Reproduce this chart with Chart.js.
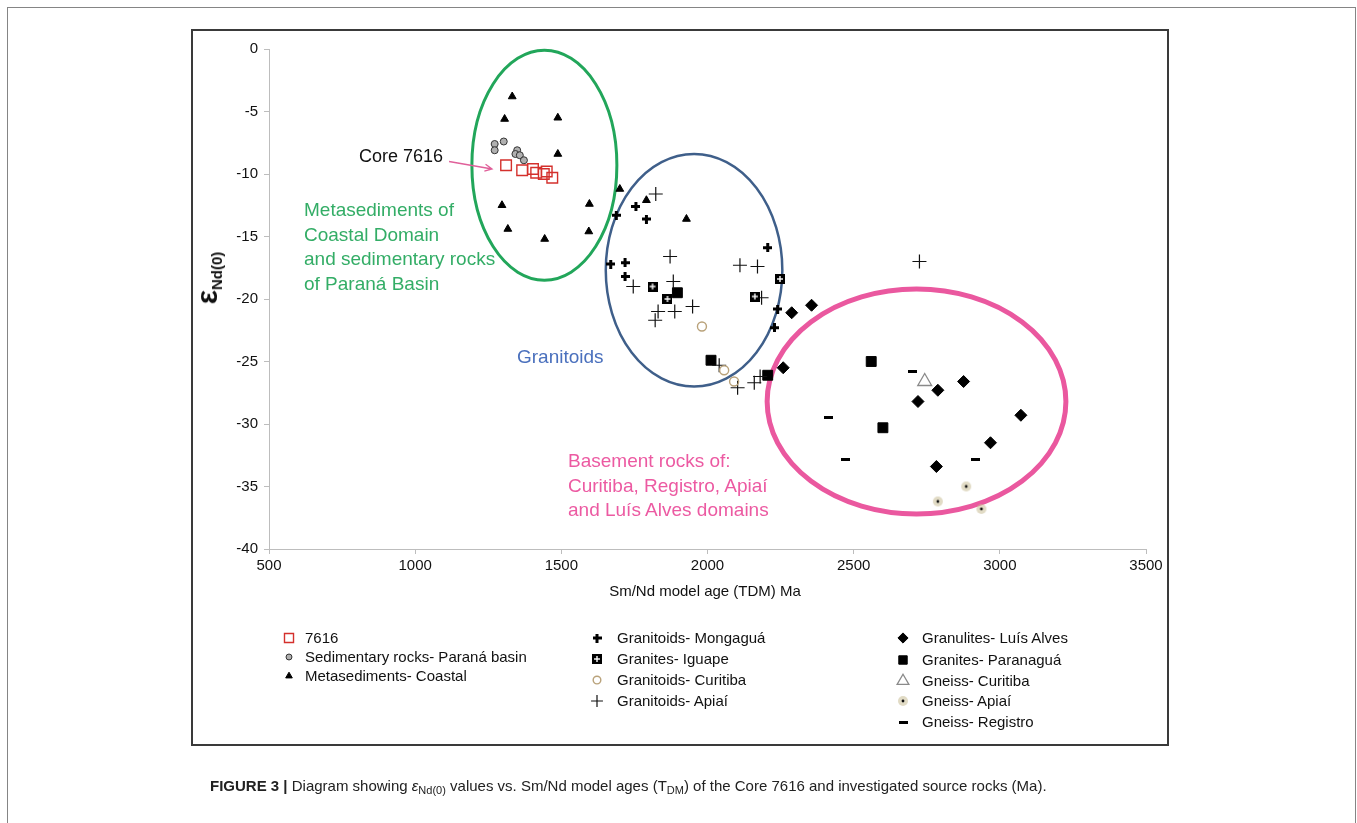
<!DOCTYPE html>
<html>
<head>
<meta charset="utf-8">
<script src="https://cdn.jsdelivr.net/npm/chart.js@4.4.0/dist/chart.umd.min.js"></script>
<style>
  body { margin: 0; background: #fff; font-family: "Liberation Sans", Arial, sans-serif; color: #111; }
  #wrap { position: relative; width: 1357px; height: 823px; overflow: hidden; }
  #outer { position: absolute; left: 7px; top: 7px; width: 1349px; height: 860px; border: 1.5px solid #858585; box-sizing: border-box; }
  #box { position: absolute; left: 191px; top: 29px; width: 978px; height: 717px; border: 2px solid #3a3a3a; box-sizing: border-box; }
  canvas { position: absolute; left: 0; top: 0; }
  .t { position: absolute; white-space: nowrap; line-height: 1; }
  .leg { font-size: 15px; }
  .green { color: #33ad66; font-size: 19px; line-height: 24.7px; }
  .blue { color: #4a70bd; font-size: 19px; }
  .pink { color: #ec5aa2; font-size: 19px; line-height: 24.5px; }
  #ytitle { left: 208px; top: 278px; transform: translate(-50%, -50%) rotate(-90deg); font-weight: bold; }
  #ytitle .eps { font-size: 30px; }
  #ytitle sub { font-size: 15px; vertical-align: -5px; }
  #caption { left: 210px; top: 778px; font-size: 15px; color: #222; }
  #caption sub { font-size: 11px; vertical-align: -3px; }
</style>
</head>
<body>
<div id="wrap">
  <div id="outer"></div>
  <div id="box"></div>
  <canvas id="scatterChart" width="1357" height="823"></canvas>

  <div class="t" id="ytitle"><span class="eps">ε</span><sub>Nd(0)</sub></div>
  <div class="t" style="left:705px; top:583px; font-size:15px; transform:translateX(-50%);">Sm/Nd model age (TDM) Ma</div>

  <!-- annotations -->
  <div class="t" style="left:359px; top:147px; font-size:18px;">Core 7616</div>
  <div class="t green" style="left:304px; top:198px;">Metasediments of<br>Coastal Domain<br>and sedimentary rocks<br>of Paraná Basin</div>
  <div class="t blue" style="left:517px; top:347px;">Granitoids</div>
  <div class="t pink" style="left:568px; top:449px;">Basement rocks of:<br>Curitiba, Registro, Apiaí<br>and Luís Alves domains</div>

  <div id="legend"></div>

  <div class="t" id="caption"><b>FIGURE 3 |</b> Diagram showing <i>ε</i><sub>Nd(0)</sub> values vs. Sm/Nd model ages (T<sub>DM</sub>) of the Core 7616 and investigated source rocks (Ma).</div>
</div>

<script>
// data: [model age Ma, eNd(0)]
const core7616 = [[1311, -9.3], [1366, -9.7], [1403, -9.6], [1414, -9.9], [1440, -10.0], [1450, -9.8], [1469, -10.3]];
const sedParana = [[1272, -7.6], [1272, -8.1], [1303, -7.4], [1349, -8.1], [1343, -8.4], [1358, -8.5], [1372, -8.9]];
const metaCoastal = [[1332, -3.8], [1306, -5.6], [1488, -5.5], [1488, -8.4], [1297, -12.5], [1317, -14.4],
  [1443, -15.2], [1596, -12.4], [1594, -14.6], [1700, -11.2], [1791, -12.1], [1928, -13.6]];
const granMongagua = [[1688, -13.3], [1755, -12.6], [1791, -13.6], [1669, -17.2], [1718, -17.1], [1718, -18.2],
  [2206, -15.9], [2240, -20.8], [2229, -22.3]];
const graniteIguape = [[1812, -19.0], [1863, -20.0], [2162, -19.8], [2248, -18.4]];
const granCuritiba = [[1981, -22.2], [2057, -25.7], [2091, -26.6]];
const granApiai = [[1823, -11.6], [1872, -16.6], [1746, -19.0], [1883, -18.6], [1831, -21.0], [1821, -21.7],
  [1888, -21.0], [1949, -20.6], [2111, -17.3], [2171, -17.4], [2185, -19.9], [2040, -25.3], [2103, -27.1],
  [2160, -26.7], [2180, -26.2], [2725, -17.0]];
const granuliteLuisAlves = [[2288, -21.1], [2356, -20.5], [2259, -25.5], [2788, -27.3], [2720, -28.2],
  [2876, -26.6], [3072, -29.3], [2968, -31.5], [2783, -33.4]];
const graniteParanagua = [[1897, -19.5], [2012, -24.9], [2206, -26.1], [2560, -25.0], [2600, -30.3]];
const gneissCuritiba = [[2743, -26.6]];
const gneissApiai = [[2885, -35.0], [2788, -36.2], [2937, -36.8]];
const gneissRegistro = [[2702, -25.8], [2415, -29.5], [2471, -32.8], [2917, -32.8]];

const xTicks = [500, 1000, 1500, 2000, 2500, 3000, 3500];
const yTicks = [0, -5, -10, -15, -20, -25, -30, -35, -40];

// field ellipses: centre x, centre y, half width (Ma), half height (eNd)
const fields = [
  { cx: 1442, cy: -9.3, rx: 248, ry: 9.2, color: '#22a65a', width: 3 },
  { cx: 1954, cy: -17.7, rx: 302, ry: 9.3, color: '#3f5f8a', width: 2.5 },
  { cx: 2715, cy: -28.2, rx: 511, ry: 9.0, color: '#ea589f', width: 5 }
];

// small canvases for the odd markers
function marker(w, h, draw) {
  const c = document.createElement('canvas');
  c.width = w; c.height = h;
  draw(c.getContext('2d'));
  return c;
}
const boldPlus = marker(9, 9, g => { g.fillStyle = '#000'; g.fillRect(3, 0, 3, 9); g.fillRect(0, 3, 9, 3); });
const quadSquare = marker(10, 10, g => {
  g.fillStyle = '#000'; g.fillRect(0, 0, 10, 10);
  g.fillStyle = '#fff'; g.fillRect(4.3, 2, 1.4, 6); g.fillRect(2, 4.3, 6, 1.4);
});
const dotHalo = marker(12, 12, g => {
  g.fillStyle = 'rgba(200,190,150,0.55)'; g.beginPath(); g.arc(6, 6, 5, 0, Math.PI * 2); g.fill();
  g.fillStyle = '#111'; g.beginPath(); g.arc(6, 6, 1.4, 0, Math.PI * 2); g.fill();
});
const dash = marker(9, 3, g => { g.fillStyle = '#000'; g.fillRect(0, 0, 9, 3); });

function series(label, pts, style) {
  return Object.assign({ label, data: pts.map(p => ({ x: p[0], y: p[1] })), borderWidth: 1 }, style);
}

const datasets = [
  series('7616', core7616, { pointStyle: 'rect', pointRadius: 7.5, backgroundColor: 'rgba(255,255,255,0)', borderColor: '#d4302c', borderWidth: 1.4 }),
  series('Sedimentary rocks- Paraná basin', sedParana, { pointStyle: 'circle', pointRadius: 3.5, backgroundColor: '#b0b0b0', borderColor: '#333', borderWidth: 1 }),
  series('Metasediments- Coastal', metaCoastal, { pointStyle: 'triangle', pointRadius: 4.5, backgroundColor: '#000', borderColor: '#000' }),
  series('Granitoids- Mongaguá', granMongagua, { pointStyle: boldPlus }),
  series('Granites- Iguape', graniteIguape, { pointStyle: quadSquare }),
  series('Granitoids- Curitiba', granCuritiba, { pointStyle: 'circle', pointRadius: 4.5, backgroundColor: 'rgba(255,255,255,0)', borderColor: '#b9a27a', borderWidth: 1.4 }),
  series('Granitoids- Apiaí', granApiai, { pointStyle: 'cross', pointRadius: 7, borderColor: '#111', borderWidth: 1.2 }),
  series('Granulites- Luís Alves', granuliteLuisAlves, { pointStyle: 'rectRot', pointRadius: 6, backgroundColor: '#000', borderColor: '#000' }),
  series('Granites- Paranaguá', graniteParanagua, { pointStyle: 'rect', pointRadius: 7, backgroundColor: '#000', borderColor: '#000' }),
  series('Gneiss- Curitiba', gneissCuritiba, { pointStyle: 'triangle', pointRadius: 8, backgroundColor: 'rgba(255,255,255,0)', borderColor: '#8a8a8a', borderWidth: 1.3 }),
  series('Gneiss- Apiaí', gneissApiai, { pointStyle: dotHalo }),
  series('Gneiss- Registro', gneissRegistro, { pointStyle: dash })
];

// legend layout: [dataset index, row y]; label text sits at tx
const legendCols = [
  { x: 289, tx: 305, rows: [[0, 638], [1, 657], [2, 676]] },
  { x: 597, tx: 617, rows: [[3, 638], [4, 659], [5, 680], [6, 701]] },
  { x: 903, tx: 922, rows: [[7, 638], [8, 660], [9, 681], [10, 701], [11, 722]] }
];
const legendDiv = document.getElementById('legend');
legendCols.forEach(col => col.rows.forEach(r => {
  const d = document.createElement('div');
  d.className = 't leg';
  d.style.left = col.tx + 'px';
  d.style.top = (r[1] - 8) + 'px';
  d.textContent = datasets[r[0]].label;
  legendDiv.appendChild(d);
}));

function drawMarker(g, ds, x, y) {
  g.save();
  g.fillStyle = ds.backgroundColor || '#000';
  g.strokeStyle = ds.borderColor || '#000';
  g.lineWidth = ds.borderWidth || 1;
  // legend markers a touch smaller than in the plot
  Chart.helpers.drawPoint(g, {
    pointStyle: ds.pointStyle, radius: (ds.pointRadius || 3) * 0.85, rotation: 0, borderWidth: ds.borderWidth || 1
  }, x, y);
  g.restore();
}

const fieldPlugin = {
  id: 'fields',
  beforeDatasetsDraw(chart) {
    const g = chart.ctx, xs = chart.scales.x, ys = chart.scales.y;
    fields.forEach(f => {
      const px = xs.getPixelForValue(f.cx), py = ys.getPixelForValue(f.cy);
      const rx = Math.abs(xs.getPixelForValue(f.cx + f.rx) - px);
      const ry = Math.abs(ys.getPixelForValue(f.cy + f.ry) - py);
      g.save();
      g.strokeStyle = f.color;
      g.lineWidth = f.width;
      g.beginPath();
      g.ellipse(px, py, rx, ry, 0, 0, Math.PI * 2);
      g.stroke();
      g.restore();
    });
    // pink arrow pointing at the core samples
    const x0 = xs.getPixelForValue(1116), y0 = ys.getPixelForValue(-9.0);
    const x1 = xs.getPixelForValue(1263), y1 = ys.getPixelForValue(-9.6);
    const a = Math.atan2(y1 - y0, x1 - x0);
    g.save();
    g.strokeStyle = '#e0609a';
    g.lineWidth = 1.3;
    g.beginPath();
    g.moveTo(x0, y0); g.lineTo(x1, y1);
    g.moveTo(x1 - 8 * Math.cos(a - 0.45), y1 - 8 * Math.sin(a - 0.45));
    g.lineTo(x1, y1);
    g.lineTo(x1 - 8 * Math.cos(a + 0.45), y1 - 8 * Math.sin(a + 0.45));
    g.stroke();
    g.restore();
  },
  afterDraw(chart) {
    legendCols.forEach(col => col.rows.forEach(r => drawMarker(chart.ctx, chart.data.datasets[r[0]], col.x, r[1])));
  }
};

const tickFont = { family: '"Liberation Sans", Arial, sans-serif', size: 15 };
const ctx = document.getElementById('scatterChart').getContext('2d');
const scatterChart = new Chart(ctx, {
  type: 'scatter',
  data: { datasets },
  options: {
    responsive: false,
    animation: false,
    layout: { padding: { left: 209, right: 211, top: 49, bottom: 244 } },
    plugins: { legend: { display: false }, tooltip: { enabled: false } },
    scales: {
      x: {
        type: 'linear', min: xTicks[0], max: xTicks[xTicks.length - 1],
        afterBuildTicks: s => { s.ticks = xTicks.map(v => ({ value: v })); },
        ticks: { font: tickFont, color: '#111', padding: 3, maxRotation: 0, callback: v => String(v) },
        grid: { drawOnChartArea: false, color: '#bdbdbd', tickLength: 5 },
        border: { color: '#bdbdbd' },
        afterFit: s => { s.height = 30; }
      },
      y: {
        type: 'linear', min: yTicks[yTicks.length - 1], max: yTicks[0],
        afterBuildTicks: s => { s.ticks = yTicks.map(v => ({ value: v })); },
        ticks: { font: tickFont, color: '#111', padding: 6, callback: v => String(v) },
        grid: { drawOnChartArea: false, color: '#bdbdbd', tickLength: 5 },
        border: { color: '#bdbdbd' },
        afterFit: s => { s.width = 60; }
      }
    }
  },
  plugins: [fieldPlugin]
});
</script>
</body>
</html>
